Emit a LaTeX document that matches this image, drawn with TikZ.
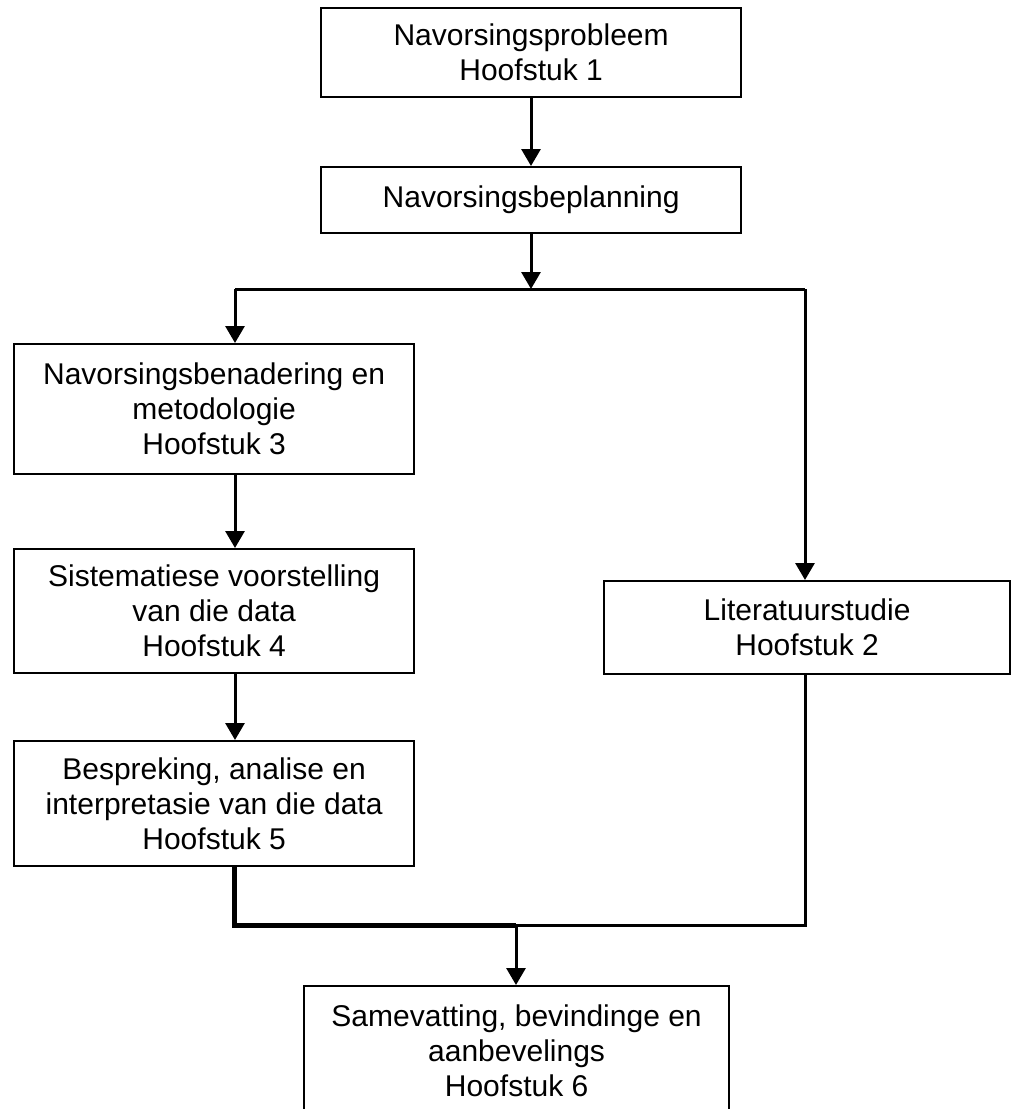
\documentclass[tikz,border=0pt]{standalone}
\usepackage{fontspec}
\setmainfont{Liberation Sans}
\usetikzlibrary{arrows.meta}
\begin{document}
\begin{tikzpicture}[x=1pt,y=-1pt,
  box/.style={draw,line width=2.2pt,anchor=north west,inner sep=0pt,align=center,
    font=\fontsize{30}{35}\selectfont},
  conn/.style={line width=3pt,-{Triangle[width=19pt,length=17pt]}},
  plain/.style={line width=3pt},
  thick5/.style={line width=5pt}]
\useasboundingbox (0,0) rectangle (1014,1109);
\node[box,minimum width=420pt,minimum height=89pt] (b1) at (320,7) {Navorsingsprobleem\\Hoofstuk 1};
\node[box,minimum width=420pt,minimum height=66pt] (b2) at (320,166) {Navorsingsbeplanning};
\node[box,minimum width=400pt,minimum height=130pt] (b3) at (13,343) {Navorsingsbenadering en\\metodologie\\Hoofstuk 3};
\node[box,minimum width=400pt,minimum height=124pt] (b4) at (13,548) {Sistematiese voorstelling\\van die data\\Hoofstuk 4};
\node[box,minimum width=400pt,minimum height=125pt] (b5) at (13,740) {Bespreking, analise en\\interpretasie van die data\\Hoofstuk 5};
\node[box,minimum width=406pt,minimum height=93pt] (lit) at (603,580) {Literatuurstudie\\Hoofstuk 2};
\node[box,minimum width=425pt,minimum height=130pt] (b6) at (303,985) {Samevatting, bevindinge en\\aanbevelings\\Hoofstuk 6};
% coordinates
\coordinate (split) at (531,289);
\coordinate (sl) at (235,289);
\coordinate (sr) at (805,289);
\coordinate (ml) at (234,925);
\coordinate (mr) at (805,925);
\coordinate (mm) at (516,925);
% connectors
\draw[conn] (b1.south -| split) -- (b2.north -| split);
\draw[conn] (b2.south -| split) -- (split);
\draw[plain] (sr) -- (sl);
\draw[conn] (sl) -- (b3.north -| sl);
\draw[conn] (sr) -- (lit.north -| sr);
\draw[conn] (b3.south -| sl) -- (b4.north -| sl);
\draw[conn] (b4.south -| sl) -- (b5.north -| sl);
\draw[thick5] (b5.south -| ml) -- (ml) -- (mm);
\draw[plain] (mm) -- (mr) -- (lit.south -| mr);
\draw[conn] (mm) -- (b6.north -| mm);
\end{tikzpicture}
\end{document}
